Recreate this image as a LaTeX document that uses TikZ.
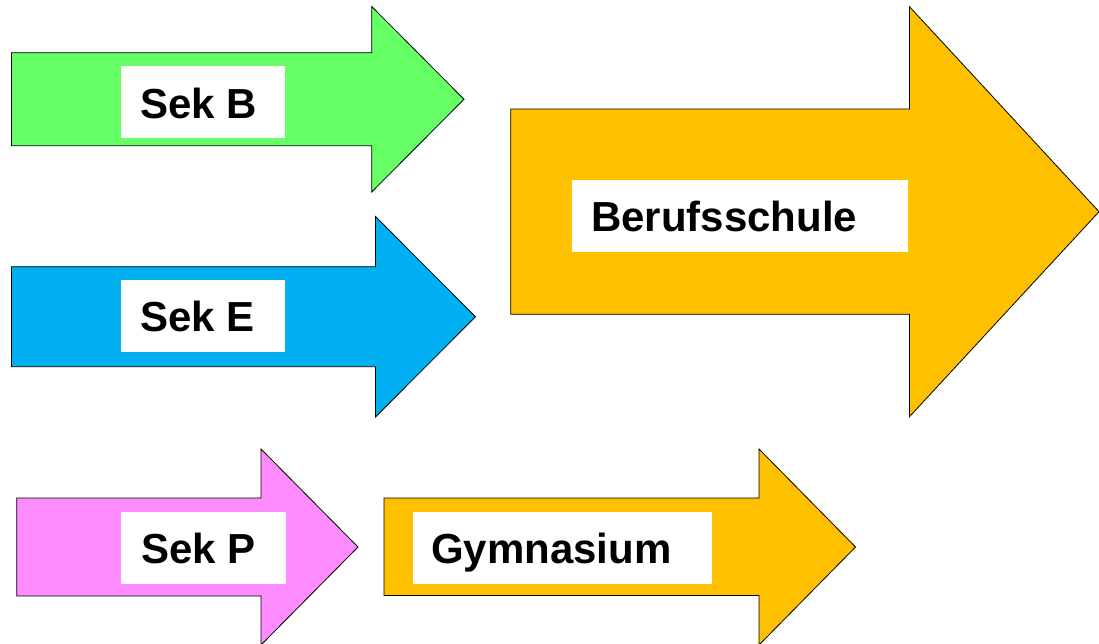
\documentclass[tikz,border=0pt]{standalone}
\usepackage{fontspec}
\setmainfont{Liberation Sans}
\definecolor{sekB}{HTML}{66FF66}
\definecolor{sekE}{HTML}{00B0F0}
\definecolor{beruf}{HTML}{FFC000}
\definecolor{sekP}{HTML}{FF8CFF}
\tikzset{
  arrowshape/.style={draw=black, line width=0.8pt, line join=miter},
  labelbox/.style={fill=white, draw=none, inner sep=0pt, anchor=north west},
  labeltext/.style={anchor=base west, inner sep=0pt, font=\fontsize{42}{42}\selectfont\bfseries}
}
% #1 colour, #2 left x, #3 shaft top, #4 shaft bottom, #5 head base x, #6 head top, #7 head bottom, #8 tip x
\newcommand\blockarrowpath[8]{%
  \path[arrowshape, fill=#1] (#2,#3) -- (#5,#3) -- (#5,#6) -- (#8,{(#6+#7)/2}) -- (#5,#7) -- (#5,#4) -- (#2,#4) -- cycle;}
\begin{document}
\begin{tikzpicture}[x=1pt, y=-1pt]
\useasboundingbox (0,0) rectangle (1099,644);
% arrows
\blockarrowpath{sekB}{11.5}{52.7}{145.7}{371.7}{6.5}{192}{464}
\blockarrowpath{sekE}{11.5}{266.7}{366.7}{375.5}{216.5}{417}{475.5}
\blockarrowpath{beruf}{510.7}{109}{314.3}{909.5}{6.7}{416.7}{1099}
\blockarrowpath{sekP}{16.7}{498}{596}{261}{449}{645}{358}
\blockarrowpath{beruf}{384}{498}{595.5}{759}{449}{645}{855.5}
% label boxes
\node[labelbox, minimum width=164pt, minimum height=71.7pt] (boxB) at (121,66) {};
\node[labelbox, minimum width=164pt, minimum height=71.7pt] (boxE) at (121,280) {};
\node[labelbox, minimum width=336pt, minimum height=71.7pt] (boxBS) at (572,180) {};
\node[labelbox, minimum width=164.5pt, minimum height=72pt] (boxP) at (121,512) {};
\node[labelbox, minimum width=298.5pt, minimum height=72pt] (boxG) at (413,512) {};
% texts
\node[labeltext] (tB) at ([shift={(19pt,-52.3pt)}]boxB.north west) {Sek B};
\node[labeltext] (tE) at ([shift={(19pt,-51.7pt)}]boxE.north west) {Sek E};
\node[labeltext] (tBS) at ([shift={(19pt,-51.7pt)}]boxBS.north west) {Berufsschule};
\node[labeltext] (tP) at ([shift={(20pt,-51.3pt)}]boxP.north west) {Sek P};
\node[labeltext] (tG) at ([shift={(18pt,-51.3pt)}]boxG.north west) {Gymnasium};
\end{tikzpicture}
\end{document}
